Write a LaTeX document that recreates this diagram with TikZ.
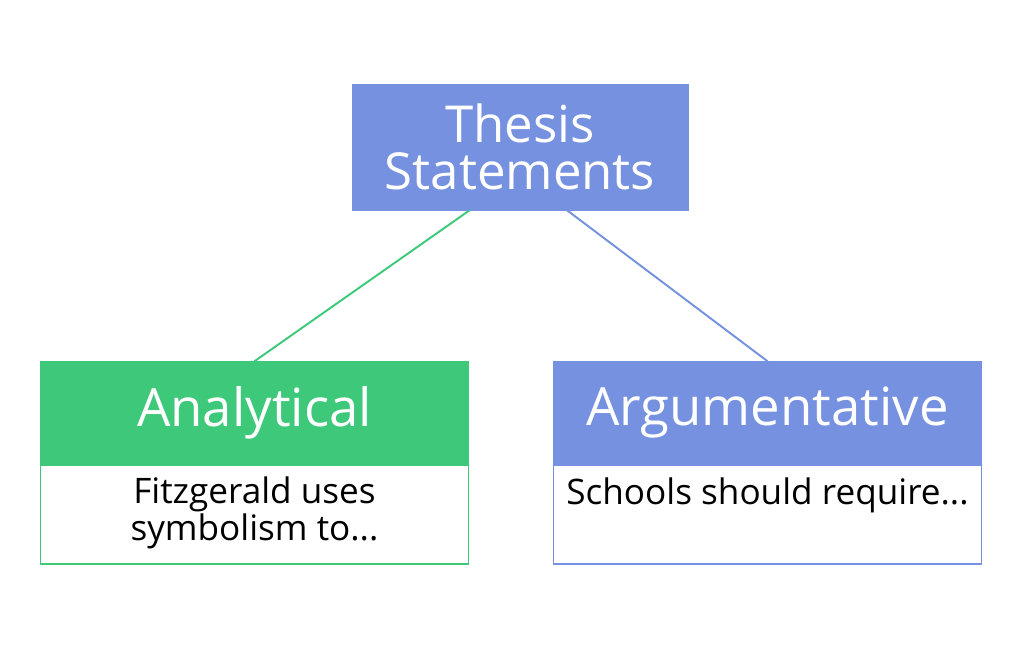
\documentclass[tikz,border=0pt]{standalone}
\usepackage{fontspec}
\setmainfont{Open Sans}
\usetikzlibrary{positioning, calc}
\definecolor{thesisblue}{RGB}{117,145,224}
\definecolor{analgreen}{RGB}{62,201,122}

\begin{document}
\begin{tikzpicture}[x=0.02cm, y=-0.02cm,
    head/.style={rectangle, draw, line width=0.9pt, text=white, align=center,
                 minimum width=8.56cm, minimum height=2.02cm, inner sep=0pt,
                 font=\fontsize{30}{32}\selectfont},
    body/.style={rectangle, draw, line width=1pt, fill=white,
                 minimum width=8.56cm, minimum height=1.98cm, inner sep=0pt},
    say/.style={text=black, align=center, inner sep=0pt,
                font=\fontsize{20}{18.5}\selectfont},
    link/.style={line width=1.1pt}]

\useasboundingbox[fill=white] (0,0) rectangle (1024,657);

%% Top: thesis statements
\node[rectangle, fill=thesisblue, draw=thesisblue, text=white, align=center,
      minimum width=6.72cm, minimum height=2.52cm, inner sep=0pt,
      font=\fontsize{29}{27}\selectfont] (thesis) at (520,147)
    {Thesis\\Statements};

%% Left: analytical
\node[head, fill=analgreen, draw=analgreen] (anal) at (254.5,412.5) {\raisebox{-3pt}{Analytical}};
\node[body, draw=analgreen, anchor=north] (analbox) at (anal.south) {};
\node[say] (analtxt) at (254.5,513) {Fitzgerald uses\\symbolism to...};

%% Right: argumentative
\node[head, fill=thesisblue, draw=thesisblue] (argu) at (767.5,412.5) {\raisebox{-3pt}{Argumentative}};
\node[body, draw=thesisblue, anchor=north] (argubox) at (argu.south) {};
\node[say, anchor=base] (argutxt) at (767.5,504) {Schools should require...};

%% Links
\draw[link, analgreen] ($(thesis.south west)!0.35!(thesis.south east)$) -- (anal.north);
\draw[link, thesisblue] ($(thesis.south west)!0.64!(thesis.south east)$) -- (argu.north);

\end{tikzpicture}
\end{document}
